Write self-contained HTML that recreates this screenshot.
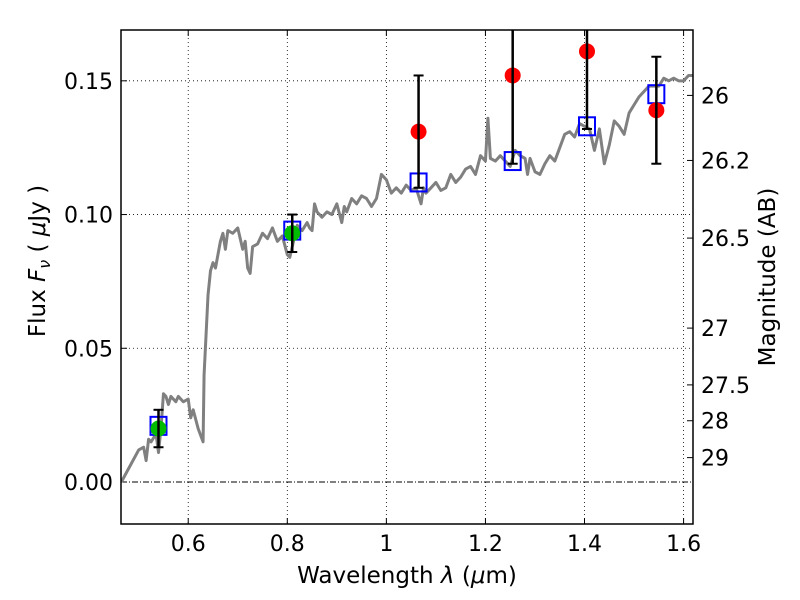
<!DOCTYPE html>
<html><head><meta charset="utf-8"><style>
body{margin:0;background:#fff}
svg{display:block;font-family:"DejaVu Sans","Liberation Sans",sans-serif}
</style></head><body>
<svg id="chart" width="800" height="600"></svg>
<script>
const specWave=[0.465,0.50,0.51,0.515,0.52,0.525,0.535,0.54,0.545,0.55,0.555,0.56,0.565,0.575,0.58,0.59,0.60,0.605,0.61,0.62,0.63,0.632,0.64,0.645,0.65,0.655,0.665,0.67,0.675,0.68,0.69,0.70,0.705,0.71,0.715,0.72,0.725,0.73,0.74,0.75,0.76,0.77,0.78,0.79,0.80,0.805,0.81,0.82,0.83,0.84,0.845,0.85,0.855,0.86,0.87,0.88,0.89,0.90,0.91,0.915,0.92,0.93,0.94,0.95,0.96,0.97,0.98,0.99,1.0,1.01,1.02,1.03,1.04,1.05,1.06,1.07,1.075,1.08,1.09,1.10,1.11,1.12,1.13,1.14,1.15,1.16,1.17,1.18,1.19,1.20,1.205,1.21,1.22,1.23,1.24,1.25,1.26,1.27,1.28,1.285,1.29,1.30,1.31,1.32,1.33,1.34,1.35,1.36,1.37,1.38,1.39,1.40,1.41,1.42,1.43,1.44,1.45,1.46,1.47,1.48,1.49,1.50,1.51,1.52,1.53,1.54,1.55,1.56,1.57,1.58,1.59,1.60,1.61,1.62];
const specFlux=[0.000,0.012,0.013,0.008,0.016,0.015,0.018,0.011,0.020,0.033,0.032,0.029,0.032,0.030,0.032,0.030,0.031,0.024,0.027,0.020,0.015,0.040,0.070,0.079,0.082,0.080,0.090,0.093,0.087,0.094,0.093,0.095,0.091,0.087,0.090,0.080,0.078,0.088,0.089,0.093,0.091,0.095,0.090,0.092,0.085,0.084,0.088,0.096,0.094,0.097,0.095,0.094,0.104,0.101,0.099,0.101,0.100,0.104,0.097,0.103,0.101,0.106,0.104,0.107,0.106,0.103,0.106,0.115,0.113,0.108,0.110,0.108,0.111,0.109,0.110,0.104,0.110,0.108,0.110,0.112,0.109,0.110,0.115,0.112,0.114,0.117,0.118,0.115,0.122,0.120,0.136,0.121,0.120,0.122,0.120,0.118,0.124,0.122,0.121,0.115,0.121,0.116,0.115,0.119,0.122,0.120,0.125,0.130,0.131,0.129,0.134,0.133,0.132,0.124,0.132,0.119,0.126,0.135,0.133,0.130,0.138,0.141,0.144,0.146,0.148,0.148,0.148,0.151,0.150,0.151,0.150,0.150,0.152,0.152];
const modelWave=[0.54,0.81,1.065,1.255,1.405,1.545];
const modelFlux=[0.021,0.094,0.112,0.120,0.133,0.145];
const greenWave=[0.54,0.81];
const greenFlux=[0.020,0.093];
const greenLo=[0.013,0.086];
const greenHi=[0.027,0.100];
const redWave=[1.065,1.255,1.405,1.545];
const redFlux=[0.131,0.152,0.161,0.139];
const redLo=[0.110,0.119,0.132,0.119];
const redHi=[0.152,0.200,0.200,0.159];
const xTicks=[0.6,0.8,1.0,1.2,1.4,1.6];
const xTickLabels=["0.6","0.8","1","1.2","1.4","1.6"];
const yTicks=[0.00,0.05,0.10,0.15];
const yTickLabels=["0.00","0.05","0.10","0.15"];
const magTicks=[26,26.2,26.5,27,27.5,28,29];
const magTickLabels=["26","26.2","26.5","27","27.5","28","29"];

const L=121,R=693,T=30,B=524;
const xmin=0.4643,xmax=1.619,ymin=-0.0157,ymax=0.1690;
const X=v=>L+(v-xmin)/(xmax-xmin)*(R-L);
const Y=v=>B-(v-ymin)/(ymax-ymin)*(B-T);
const svg=document.getElementById('chart');
const NS='http://www.w3.org/2000/svg';
function mk(tag,attrs,parent){const e=document.createElementNS(NS,tag);for(const k in attrs)e.setAttribute(k,attrs[k]);(parent||svg).appendChild(e);return e;}

const clip=mk('clipPath',{id:'pc'});mk('rect',{x:L,y:T,width:R-L,height:B-T},clip);

xTicks.forEach((t,i)=>{
  const g=mk('line',{x1:X(t),x2:X(t),y1:T,y2:B,stroke:'#000','stroke-width':0.8,'stroke-dasharray':'1,3'});
  
  
  mk('line',{x1:X(t),x2:X(t),y1:B,y2:B-6,stroke:'#000'});
  mk('line',{x1:X(t),x2:X(t),y1:T,y2:T+6,stroke:'#000'});
  const tx=mk('text',{x:X(t),y:B+27,'font-size':22,'text-anchor':'middle'});tx.textContent=xTickLabels[i];
  
  
});
yTicks.forEach((t,i)=>{
  const g=mk('line',{x1:L,x2:R,y1:Y(t),y2:Y(t),stroke:'#000','stroke-width':t===0?1:0.8,'stroke-dasharray':t===0?'6,2,1,2':'1,3'});
  
  
  mk('line',{x1:L,x2:L+6,y1:Y(t),y2:Y(t),stroke:'#000'});
  const tx=mk('text',{x:L-8,y:Y(t)+8,'font-size':22,'text-anchor':'end'});tx.textContent=yTickLabels[i];
  
  
});
magTicks.forEach((m,i)=>{
  const f=Math.pow(10,(23.9-m)/2.5);
  mk('line',{x1:R,x2:R-6,y1:Y(f),y2:Y(f),stroke:'#000'});
  const tx=mk('text',{x:R+8,y:Y(f)+8,'font-size':22});tx.textContent=magTickLabels[i];
  
  
});

const pg=mk('g',{'clip-path':'url(#pc)'});
const sp=mk('polyline',{points:specWave.map((w,i)=>X(w)+','+Y(specFlux[i])).join(' '),fill:'none',stroke:'#808080','stroke-width':3,'stroke-linejoin':'round'},pg);



function errbar(w,lo,hi){
  mk('line',{x1:X(w),x2:X(w),y1:Y(lo),y2:Y(hi),stroke:'#000','stroke-width':2.5},pg);
  mk('line',{x1:X(w)-5,x2:X(w)+5,y1:Y(lo),y2:Y(lo),stroke:'#000','stroke-width':2},pg);
  mk('line',{x1:X(w)-5,x2:X(w)+5,y1:Y(hi),y2:Y(hi),stroke:'#000','stroke-width':2},pg);
}
modelWave.forEach((w,i)=>{
  const r=mk('rect',{x:X(w)-8,y:Y(modelFlux[i])-9,width:16,height:18,fill:'none',stroke:'#0000ff','stroke-width':2},pg);
  
  
});
greenWave.forEach((w,i)=>{
  const c=mk('circle',{cx:X(w),cy:Y(greenFlux[i]),r:8,fill:'#00bb00'},pg);
  
  
  errbar(w,greenLo[i],greenHi[i]);
});
redWave.forEach((w,i)=>{
  const c=mk('circle',{cx:X(w),cy:Y(redFlux[i]),r:8,fill:'#ff0000'},pg);
  
  
  errbar(w,redLo[i],redHi[i]);
});

const fr=mk('rect',{x:L,y:T,width:R-L,height:B-T,fill:'none',stroke:'#000','stroke-width':1.5});



let t=mk('text',{x:(L+R)/2,y:583,'font-size':23,'text-anchor':'middle','xml:space':'preserve'});
t.innerHTML='Wavelength  <tspan font-style="italic">λ</tspan> (<tspan font-style="italic">μ</tspan>m)';


t=mk('text',{x:0,y:0,'font-size':23,'text-anchor':'middle',transform:'translate(45,261) rotate(-90)','xml:space':'preserve'});
t.innerHTML='Flux  <tspan font-style="italic">F</tspan><tspan font-style="italic" font-size="16" dy="5">ν</tspan><tspan dy="-5">  (  </tspan><tspan font-style="italic">μ</tspan>Jy )';


t=mk('text',{x:0,y:0,'font-size':23,'text-anchor':'middle',transform:'translate(775,277) rotate(-90)'});
t.textContent='Magnitude (AB)';


</script>
</body></html>
